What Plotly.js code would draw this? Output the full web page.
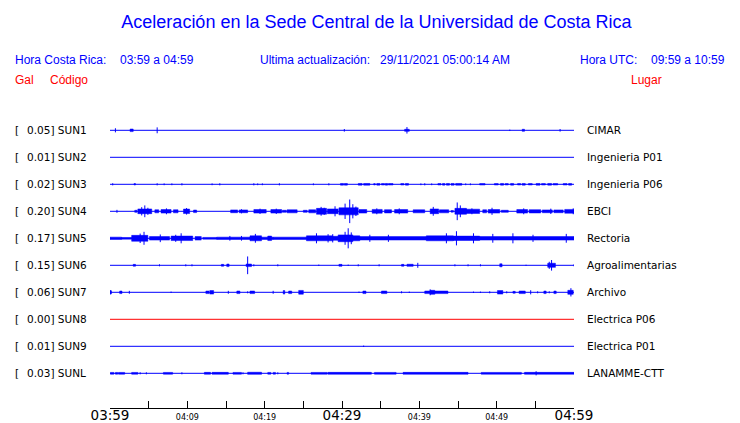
<!DOCTYPE html>
<html><head><meta charset="utf-8">
<script src="https://cdn.plot.ly/plotly-3.0.1.min.js"></script>
<style>html,body{margin:0;padding:0;background:#fff}#chart{width:740px;height:423px}</style>
</head><body><div id="chart"></div>
<script>
// ---------- DATA ----------
const codes  = ['SUN1','SUN2','SUN3','SUN4','SUN5','SUN6','SUN7','SUN8','SUN9','SUNL'];
const peaks  = ['0.05','0.01','0.02','0.20','0.17','0.15','0.06','0.00','0.01','0.03'];
const places = ['CIMAR','Ingenieria P01','Ingenieria P06','EBCI','Rectoria','Agroalimentarias','Archivo','Electrica P06','Electrica P01','LANAMME-CTT'];
const timeSpan = [0, 60];                       // minutes after 03:59
const tickVals = [0,5,10,15,20,25,30,35,40,45,50,55,60];
const tickLabels = ['03:59','','04:09','','04:19','','04:29','','04:39','','04:49','','04:59'];
const majorLabels = ['03:59','04:29','04:59'];

// spikes: [minute, amplitude gal]   bursts: [start minute, end minute, amplitude gal]
const sun1Spikes = [[0.7,0.035],[6.1,0.05],[30.3,0.022],[38.4,0.055],[51.7,0.012],[58.2,0.022]];
const sun1Bursts = [[2.6,3.0,0.022],[38.1,38.7,0.018],[53.3,53.6,0.018]];
const sun2Spikes = [];
const sun2Bursts = [];
const sun3Spikes = [[0.35,0.018],[6.1,0.018],[7.0,0.015],[8.0,0.015],[9.3,0.018],[13.2,0.015],[14.2,0.018],[18.6,0.018],[19.1,0.015],[19.7,0.015],[21.9,0.018],[26.3,0.015],[28.3,0.018],[40.2,0.015],[40.7,0.018],[41.6,0.015],[46.0,0.015],[46.6,0.015]];
const sun3Bursts = [[3.1,3.3,0.012],[29.8,30.2,0.014],[30.3,30.7,0.014],[32.1,32.6,0.014],[32.8,33.6,0.014],[34.1,34.3,0.012],[34.5,34.9,0.014],[35.1,35.5,0.012],[35.6,35.9,0.014],[36.0,36.6,0.012],[37.6,38.0,0.012],[38.2,38.6,0.014],[42.4,42.8,0.012],[43.0,43.3,0.014],[43.5,43.9,0.014],[44.1,44.5,0.014],[44.7,45.5,0.014],[47.8,48.5,0.012],[49.7,50.2,0.012],[50.5,50.9,0.014],[51.1,51.5,0.012],[51.8,52.2,0.014],[52.7,53.1,0.012],[53.3,53.7,0.014],[54.1,54.6,0.012],[55.1,55.6,0.014],[55.8,56.3,0.012],[56.6,57.1,0.014],[57.3,57.9,0.012],[58.6,59.1,0.012],[59.3,59.7,0.014]];
const sun4Spikes = [[0.9,0.025],[4.5,0.10],[4.1,0.07],[4.9,0.06],[7.3,0.05],[9.9,0.055],[17.0,0.035],[19.4,0.045],[21.5,0.045],[27.3,0.075],[27.7,0.06],[29.1,0.085],[30.4,0.13],[31.0,0.20],[31.4,0.12],[31.8,0.08],[34.5,0.05],[37.4,0.05],[41.8,0.075],[44.9,0.15],[45.3,0.10],[46.8,0.05],[49.4,0.06],[53.5,0.05],[57.0,0.045],[59.9,0.05]];
const sun4Bursts = [[3.2,3.5,0.018],[3.6,5.4,0.04],[5.8,6.3,0.026],[6.6,7.9,0.03],[8.2,8.8,0.026],[9.5,10.3,0.038],[10.8,11.2,0.022],[15.6,16.5,0.024],[16.7,17.8,0.024],[18.6,20.2,0.03],[20.8,22.2,0.03],[22.3,22.8,0.018],[22.9,24.2,0.026],[25.0,25.5,0.018],[25.7,26.6,0.026],[26.7,28.0,0.05],[28.1,29.5,0.04],[29.6,32.1,0.06],[32.2,33.2,0.03],[33.9,35.2,0.032],[35.5,36.4,0.028],[36.8,38.5,0.03],[39.2,40.7,0.026],[41.4,42.5,0.04],[42.6,43.8,0.026],[44.1,44.4,0.014],[44.6,46.1,0.05],[46.1,47.8,0.036],[48.2,48.7,0.026],[48.9,50.4,0.03],[50.6,51.5,0.018],[52.6,54.0,0.03],[54.2,55.7,0.028],[55.9,57.2,0.024],[57.4,58.6,0.024],[58.8,60,0.032]];
const sun5Spikes = [[3.9,0.08],[4.4,0.11],[6.5,0.065],[8.5,0.06],[9.2,0.085],[15.5,0.04],[17.0,0.04],[18.8,0.075],[26.7,0.085],[28.2,0.07],[28.8,0.07],[30.4,0.11],[30.8,0.17],[31.2,0.10],[33.6,0.06],[36.0,0.06],[43.5,0.085],[44.8,0.12],[47.0,0.085],[49.5,0.075],[52.1,0.085],[54.7,0.06],[59.0,0.075]];
const sun5Bursts = [[0,1.5,0.02],[1.5,2.8,0.014],[2.8,4.9,0.05],[5.1,7.7,0.03],[7.9,10.7,0.038],[11.0,11.8,0.03],[12.0,13.8,0.015],[13.8,18.1,0.02],[18.1,19.6,0.042],[19.6,21.1,0.02],[20.4,20.9,0.038],[21.1,25.4,0.02],[25.4,28.8,0.042],[28.8,29.5,0.034],[29.5,31.4,0.058],[31.4,32.3,0.042],[32.3,40.9,0.029],[40.9,44.4,0.042],[44.4,47.8,0.037],[47.8,52.1,0.03],[52.1,60,0.03]];
const sun6Spikes = [[6.4,0.017],[9.8,0.017],[10.6,0.017],[17.8,0.15],[18.6,0.017],[21.7,0.017],[27.0,0.012],[30.8,0.012],[32.1,0.017],[34.8,0.017],[39.8,0.042],[44.6,0.017],[46.3,0.017],[47.9,0.017],[53.8,0.01],[56.8,0.06],[57.1,0.09],[60,0.017]];
const sun6Bursts = [[3.0,3.3,0.016],[14.4,14.7,0.016],[15.1,15.4,0.022],[17.6,18.3,0.022],[29.6,30.0,0.016],[37.7,38.0,0.016],[38.4,39.2,0.018],[50.4,50.7,0.026],[56.6,57.6,0.035]];
const sun7Spikes = [[0.05,0.035],[2.5,0.025],[7.9,0.012],[15.3,0.025],[17.8,0.017],[21.1,0.025],[32.2,0.012],[37.7,0.017],[38.7,0.012],[41.4,0.05],[47.0,0.012],[47.9,0.012],[49.1,0.017],[51.3,0.017],[54.4,0.035],[55.3,0.017],[56.8,0.017],[59.6,0.07]];
const sun7Bursts = [[0,0.2,0.026],[1.25,1.55,0.022],[12.4,12.8,0.022],[12.9,13.4,0.03],[16.4,16.8,0.022],[18.1,18.7,0.022],[22.4,22.6,0.03],[23.1,23.5,0.022],[24.4,25.0,0.032],[32.7,33.1,0.022],[35.1,35.8,0.022],[40.7,41.6,0.022],[41.4,42.0,0.034],[42.0,43.7,0.022],[50.1,50.8,0.03],[52.1,52.4,0.016],[52.9,53.7,0.022],[56.1,56.4,0.022],[57.4,57.7,0.022],[59.2,59.9,0.034]];
const sun8Spikes = [];
const sun8Bursts = [];
const sun9Spikes = [[32.8,0.012]];
const sun9Bursts = [];
const sunLSpikes = [[3.9,0.017],[4.7,0.017],[9.3,0.017],[17.2,0.017],[21.7,0.017],[55.1,0.035]];
const sunLBursts = [[0.05,0.5,0.015],[0.7,1.0,0.015],[1.1,1.9,0.015],[2.8,3.6,0.015],[6.9,8.1,0.015],[12.2,13.0,0.016],[13.2,15.3,0.016],[15.9,17.0,0.015],[17.8,19.6,0.018],[20.4,20.8,0.015],[21.1,21.4,0.015],[22.9,23.1,0.015],[26.0,28.1,0.015],[28.2,33.8,0.016],[34.2,37.0,0.015],[37.9,46.3,0.016],[48.0,53.2,0.015],[53.6,60,0.016]];

const spikeSets = [sun1Spikes,sun2Spikes,sun3Spikes,sun4Spikes,sun5Spikes,sun6Spikes,sun7Spikes,sun8Spikes,sun9Spikes,sunLSpikes];
const burstSets = [sun1Bursts,sun2Bursts,sun3Bursts,sun4Bursts,sun5Bursts,sun6Bursts,sun7Bursts,sun8Bursts,sun9Bursts,sunLBursts];

// ---------- STYLE ----------
const BLUE = '#0000ff', RED = '#ff0000';
const rowColors = codes.map(c => c === 'SUN8' ? RED : BLUE);
const GAL_PER_ROW = 0.4576;   // amplitude scale: one row spacing equals this many gal
const rowY = (i, a) => -i + a / GAL_PER_ROW;

const traces = [];
codes.forEach((c, i) => {
  const color = rowColors[i];
  traces.push({x: timeSpan, y: [rowY(i,0), rowY(i,0)], mode: 'lines', line: {color, width: 1}, hoverinfo: 'skip', showlegend: false});
  const bx = [], by = [];
  burstSets[i].forEach(([t0, t1, a]) => {
    bx.push(t0, t1, t1, t0, t0, null);
    by.push(rowY(i,a), rowY(i,a), rowY(i,-a), rowY(i,-a), rowY(i,a), null);
  });
  if (bx.length) traces.push({x: bx, y: by, mode: 'lines', fill: 'toself', fillcolor: color, line: {color, width: 0.5}, hoverinfo: 'skip', showlegend: false});
  const sx = [], sy = [];
  spikeSets[i].forEach(([t, a]) => { sx.push(t, t, null); sy.push(rowY(i,a), rowY(i,-a), null); });
  if (sx.length) traces.push({x: sx, y: sy, mode: 'lines', line: {color, width: 1}, hoverinfo: 'skip', showlegend: false});
});

// ---------- LAYOUT ----------
const ML = 110, MR = 166, MT = 115, MB = 15, W = 740, H = 423;
const PW = W - ML - MR, PH = H - MT - MB;
const PAD = 2;  // annotation inner padding compensation
const px = (x, anchor) => (x + (anchor === 'left' ? -PAD : anchor === 'right' ? PAD : 0) - ML) / PW;
const py = y => (H - MB - y) / PH;
const hdrFont = (color) => ({family: 'Liberation Sans, Arial, sans-serif', size: 12, color});
const lblFont = {family: 'DejaVu Sans, sans-serif', size: 10.5, color: '#000'};

const ann = [];
function textAt(text, x, y, anchor, font) {
  ann.push({text, xref: 'paper', yref: 'paper', x: px(x, anchor), y: py(y), xanchor: anchor, yanchor: 'middle', showarrow: false, font});
}
textAt('Hora Costa Rica:', 15, 60, 'left', hdrFont(BLUE));
textAt('03:59 a 04:59', 120, 60, 'left', hdrFont(BLUE));
textAt('Ultima actualización:', 260, 60, 'left', hdrFont(BLUE));
textAt('29/11/2021 05:00:14 AM', 380, 60, 'left', hdrFont(BLUE));
textAt('Hora UTC:', 580, 60, 'left', hdrFont(BLUE));
textAt('09:59 a 10:59', 725, 60, 'right', hdrFont(BLUE));
textAt('Gal', 15, 80, 'left', hdrFont(RED));
textAt('Código', 50, 80, 'left', hdrFont(RED));
textAt('Lugar', 662, 80, 'right', hdrFont(RED));

codes.forEach((c, i) => {
  ann.push({text: '[', xref: 'paper', yref: 'y', x: px(15, 'left'), y: -i, xanchor: 'left', yanchor: 'middle', showarrow: false, font: lblFont});
  ann.push({text: peaks[i] + '] ' + c, xref: 'paper', yref: 'y', x: px(27, 'left'), y: -i, xanchor: 'left', yanchor: 'middle', showarrow: false, font: lblFont});
  ann.push({text: places[i], xref: 'paper', yref: 'y', x: px(587, 'left'), y: -i, xanchor: 'left', yanchor: 'middle', showarrow: false, font: lblFont});
});

const tickText = tickLabels.map(t => majorLabels.includes(t) ? '<span style="font-size:13.5px">' + t + '</span>' : t);

const layout = {
  width: W, height: H,
  margin: {l: ML, r: MR, t: MT, b: MB, pad: 0},
  paper_bgcolor: '#fff', plot_bgcolor: '#fff',
  showlegend: false,
  title: {text: 'Aceleración en la Sede Central de la Universidad de Costa Rica', x: 376.5 / W, xanchor: 'center', xref: 'container', y: 1 - 22 / H, yanchor: 'middle', yref: 'container', font: {family: 'Liberation Sans, Arial, sans-serif', size: 18, color: BLUE}},
  xaxis: {range: [0, 60], tickmode: 'array', tickvals: tickVals, ticktext: tickText, ticks: 'inside', ticklen: 7, tickwidth: 1, tickcolor: '#000',
          showline: true, linecolor: '#000', linewidth: 1, showgrid: false, zeroline: false, fixedrange: true, ticklabelstandoff: 1,
          tickfont: {family: 'DejaVu Sans, sans-serif', size: 8, color: '#000'}},
  yaxis: {range: [-10.285, 0.567], visible: false, fixedrange: true},
  annotations: ann
};
Plotly.newPlot('chart', traces, layout, {displayModeBar: false, staticPlot: true});
</script></body></html>
